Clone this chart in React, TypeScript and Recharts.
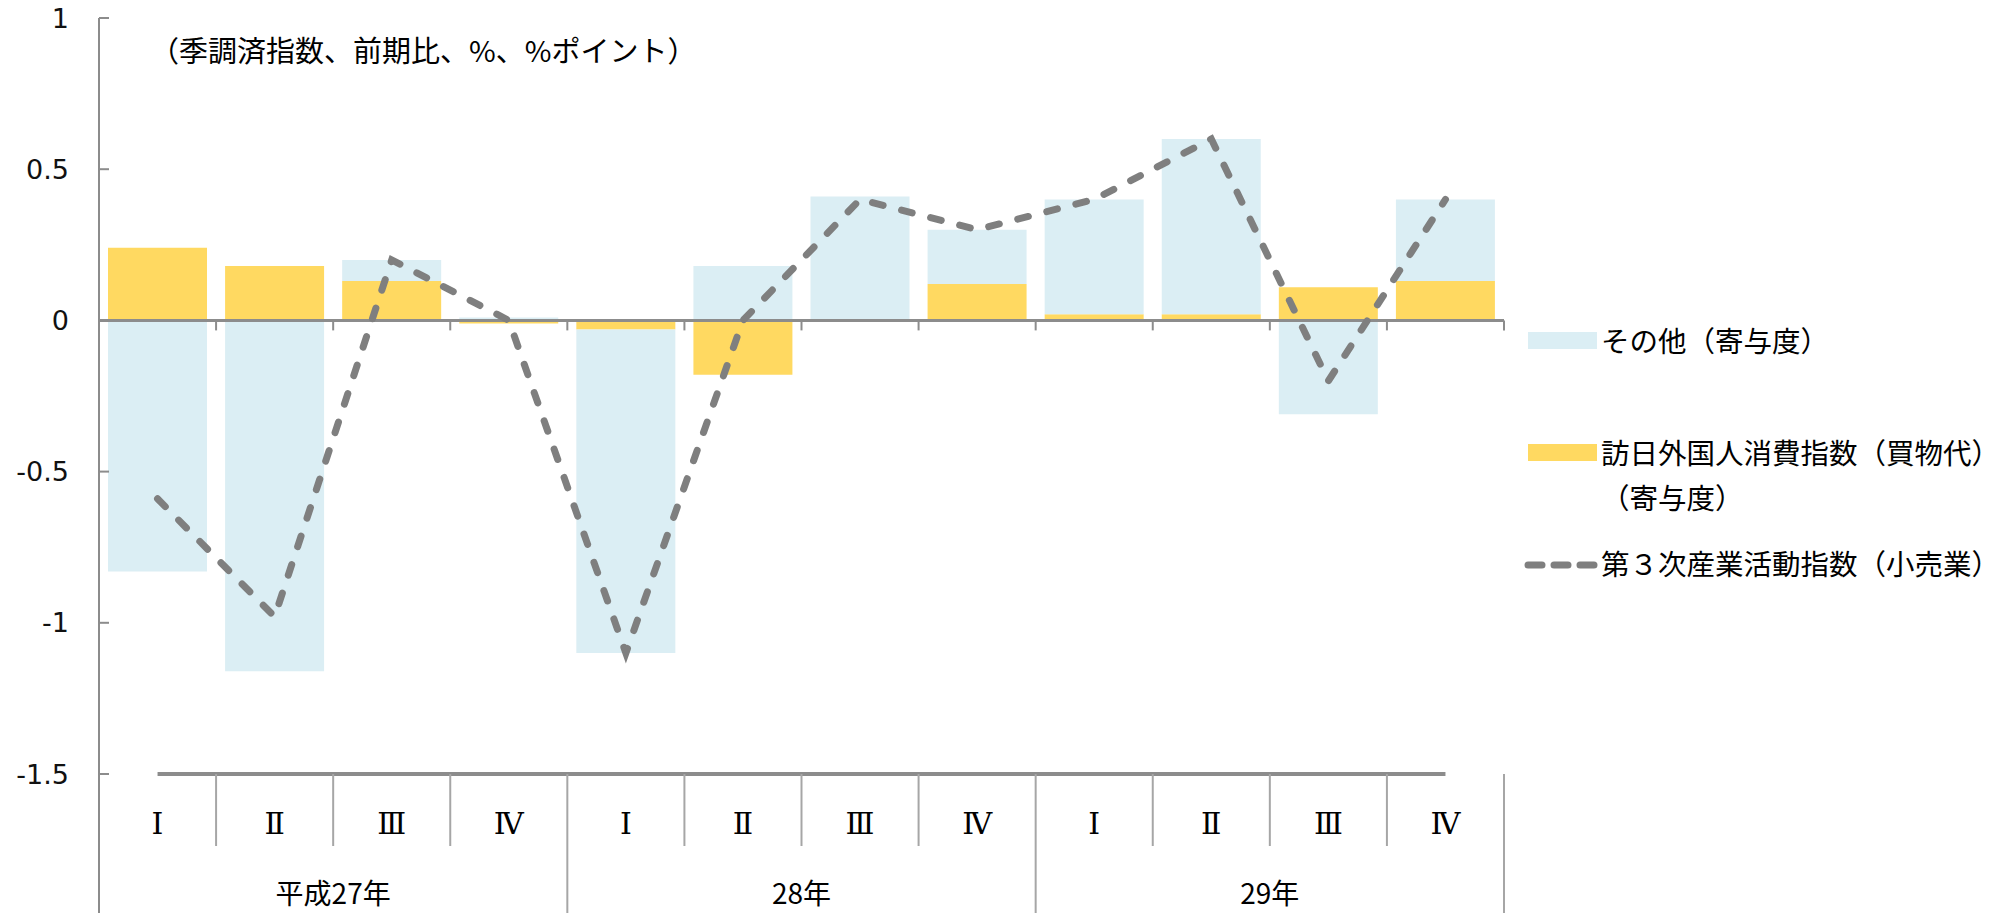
import React from "react";
import {
  ComposedChart,
  Bar,
  Line,
  XAxis,
  YAxis,
  ReferenceLine,
} from "recharts";

// ---- data ----
const periods = ["27-1", "27-2", "27-3", "27-4", "28-1", "28-2", "28-3", "28-4", "29-1", "29-2", "29-3", "29-4"];
const quarterLabels = ["Ⅰ", "Ⅱ", "Ⅲ", "Ⅳ", "Ⅰ", "Ⅱ", "Ⅲ", "Ⅳ", "Ⅰ", "Ⅱ", "Ⅲ", "Ⅳ"];
const yearLabels = ["平成27年", "28年", "29年"];
const inbound = [0.24, 0.18, 0.13, -0.01, -0.03, -0.18, 0, 0.12, 0.02, 0.02, 0.11, 0.13];
const others = [-0.83, -1.16, 0.07, 0.01, -1.07, 0.18, 0.41, 0.18, 0.38, 0.58, -0.31, 0.27];
const retail = [-0.59, -0.98, 0.2, 0, -1.1, 0, 0.4, 0.3, 0.4, 0.6, -0.2, 0.4];
const yTicks = [-1.5, -1, -0.5, 0, 0.5, 1];

const seriesNames = {
  others: "その他（寄与度）",
  inbound: "訪日外国人消費指数（買物代）",
  inbound2: "（寄与度）",
  retail: "第３次産業活動指数（小売業）",
};

const title = "（季調済指数、前期比、%、%ポイント）";

// ---- layout ----
const W = 2012;
const H = 913;
const TOP = 18;
const RIGHT = 508;
const Y_AXIS_W = 99;
const X_AXIS_H = 139;
const PLOT_W = W - RIGHT - Y_AXIS_W;
const PLOT_H = H - TOP - X_AXIS_H;
const BAND = PLOT_W / periods.length;
const Y_MIN = -1.5;
const Y_MAX = 1;
const ZERO_Y = TOP + ((Y_MAX - 0) / (Y_MAX - Y_MIN)) * PLOT_H;
const BOTTOM_Y = TOP + PLOT_H;

const AXIS_GREY = "#8c8c8c";
const SEP_GREY = "#a6a6a6";
const BLUE = "#dbeef4";
const YELLOW = "#ffd961";
const LINE_GREY = "#7f7f7f";
const CJK = '"Noto Sans CJK JP", "Noto Sans", sans-serif';

const data = periods.map((p, i) => ({
  key: p,
  inbound: inbound[i],
  others: others[i],
  retail: retail[i],
}));

function XTick(props: any) {
  const { x, index } = props;
  const left = x - BAND / 2;
  const right = x + BAND / 2;
  const yearEnd = (index + 1) % 4 === 0;
  return (
    <g>
      {/* tick marks on the zero line */}
      {index > 0 && (
        <line x1={left} x2={left} y1={ZERO_Y} y2={ZERO_Y + 10} stroke={AXIS_GREY} strokeWidth={2} />
      )}
      {index === periods.length - 1 && (
        <line x1={right} x2={right} y1={ZERO_Y} y2={ZERO_Y + 10} stroke={AXIS_GREY} strokeWidth={2} />
      )}
      {index === 0 && (
        <line x1={left} x2={left} y1={BOTTOM_Y} y2={H} stroke={AXIS_GREY} strokeWidth={2} />
      )}
      <line
        x1={right}
        x2={right}
        y1={BOTTOM_Y}
        y2={yearEnd ? H : BOTTOM_Y + 72}
        stroke={SEP_GREY}
        strokeWidth={2}
      />
      <text
        x={x}
        y={BOTTOM_Y + 49}
        textAnchor="middle"
        dominantBaseline="central"
        fontFamily='"DejaVu Serif", "Liberation Serif", serif'
        fontSize={30}
        fill="#000"
      >
        {quarterLabels[index]}
      </text>
      {index % 4 === 1 && (
        <text
          x={right}
          y={BOTTOM_Y + 118}
          textAnchor="middle"
          dominantBaseline="central"
          fontFamily={CJK}
          fontSize={28}
          fill="#000"
        >
          {yearLabels[Math.floor(index / 4)]}
        </text>
      )}
    </g>
  );
}

function YTick(props: any) {
  const { y, payload } = props;
  return (
    <g>
      <line x1={Y_AXIS_W} x2={Y_AXIS_W + 10} y1={y} y2={y} stroke={AXIS_GREY} strokeWidth={2} />
      <text
        x={Y_AXIS_W - 30}
        y={y}
        textAnchor="end"
        dominantBaseline="central"
        fontFamily='"DejaVu Sans", Verdana, sans-serif'
        fontSize={27}
        fill="#111"
      >
        {payload.value}
      </text>
    </g>
  );
}

function Legend() {
  const text: React.CSSProperties = {
    position: "absolute",
    left: 1601,
    fontFamily: CJK,
    fontSize: 28.5,
    lineHeight: "34px",
    color: "#000",
    whiteSpace: "nowrap",
  };
  return (
    <>
      <div style={{ position: "absolute", left: 1528, top: 332, width: 69, height: 17, background: BLUE }} />
      <div style={{ ...text, top: 323 }}>{seriesNames.others}</div>
      <div style={{ position: "absolute", left: 1528, top: 444, width: 69, height: 17, background: YELLOW }} />
      <div style={{ ...text, top: 435 }}>{seriesNames.inbound}</div>
      <div style={{ ...text, top: 480 }}>{seriesNames.inbound2}</div>
      <svg style={{ position: "absolute", left: 1522, top: 555 }} width={80} height={20}>
        <line
          x1={6}
          x2={76}
          y1={10}
          y2={10}
          stroke={LINE_GREY}
          strokeWidth={7}
          strokeLinecap="round"
          strokeDasharray="14 12"
        />
      </svg>
      <div style={{ ...text, top: 546 }}>{seriesNames.retail}</div>
    </>
  );
}

export default function App() {
  return (
    <div style={{ position: "absolute", left: 0, top: 0, width: W, height: H, background: "#fff" }}>
      <ComposedChart
        width={W}
        height={H}
        data={data}
        stackOffset="sign"
        barCategoryGap={9}
        margin={{ top: TOP, right: RIGHT, bottom: 0, left: 0 }}
      >
        <XAxis
          dataKey="key"
          height={X_AXIS_H}
          axisLine={false}
          tickLine={false}
          interval={0}
          tick={<XTick />}
        />
        <YAxis
          width={Y_AXIS_W}
          domain={[Y_MIN, Y_MAX]}
          ticks={yTicks}
          interval={0}
          axisLine={{ stroke: AXIS_GREY, strokeWidth: 2 }}
          tickLine={false}
          tick={<YTick />}
        />
        <Bar dataKey="inbound" stackId="s" fill={YELLOW} isAnimationActive={false} />
        <Bar dataKey="others" stackId="s" fill={BLUE} isAnimationActive={false} />
        <ReferenceLine y={0} stroke={AXIS_GREY} strokeWidth={3} />
        <ReferenceLine
          segment={[
            { x: periods[0], y: Y_MIN },
            { x: periods[periods.length - 1], y: Y_MIN },
          ]}
          stroke={AXIS_GREY}
          strokeWidth={4}
        />
        <Line
          dataKey="retail"
          type="linear"
          stroke={LINE_GREY}
          strokeWidth={7}
          strokeLinecap="round"
          strokeDasharray="11 19"
          dot={false}
          activeDot={false}
          isAnimationActive={false}
        />
      </ComposedChart>
      <div
        style={{
          position: "absolute",
          left: 150,
          top: 33,
          fontFamily: CJK,
          fontSize: 29,
          lineHeight: "32px",
          color: "#000",
          whiteSpace: "nowrap",
        }}
      >
        {title}
      </div>
      <Legend />
    </div>
  );
}
